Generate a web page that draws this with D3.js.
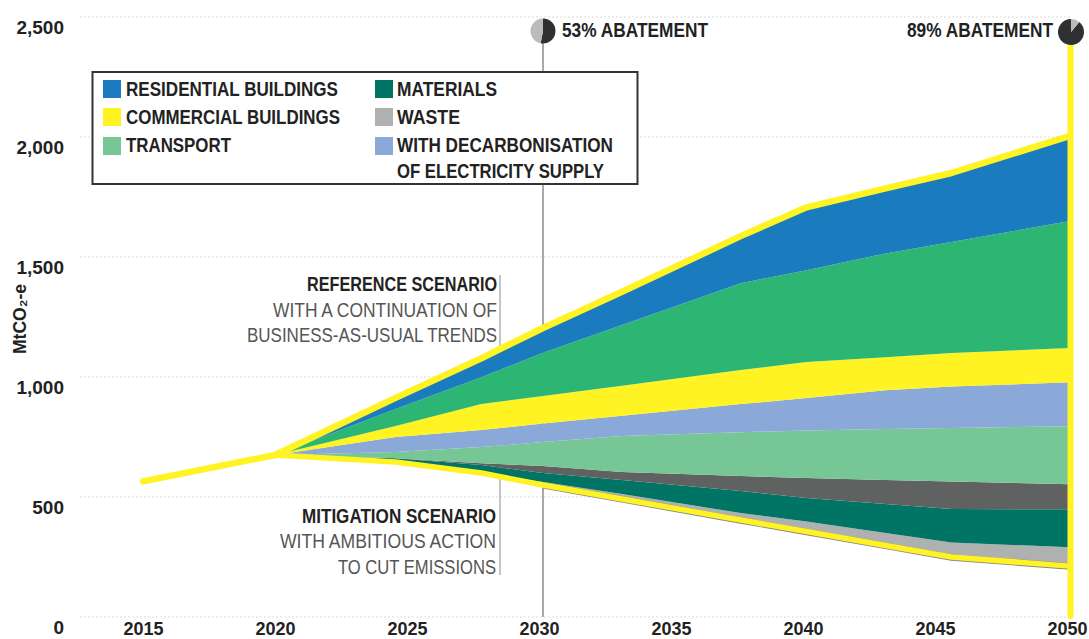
<!DOCTYPE html>
<html><head><meta charset="utf-8">
<style>
html,body{margin:0;padding:0;background:#fff}
svg{display:block}
text{font-family:"Liberation Sans Narrow","Liberation Sans",sans-serif}
</style>
<script src="https://cdn.jsdelivr.net/npm/d3@7"></script>
</head><body><svg id="c" width="1089" height="639"></svg>
<script>
const years      = [2020,2024.5,2027.7,2030,2033,2037.5,2040,2043,2045.5,2050];
const mitigation = [675,646,600,550,492,404,356,298,250,212];
const waste      = [0,0,0,12,21,29,42,52,60,79];
const materials  = [0,15,33,38,58,92,98,121,140,158];
const otherGrey  = [0,0,8,29,33,62,83,100,115,104];
const transport  = [0,27,67,100,150,183,198,212,223,242];
const decarb     = [0,62,71,77,85,117,135,162,172,183];
const commercial = [0,46,108,115,125,142,150,137,140,143];
const otherGreen = [0,71,112,180,253,362,383,433,462,529];
const residential= [0,46,79,103,138,196,262,271,288,355];
const history    = [[2015,565]];
const yTicks = [0,500,1000,1500,2000,2500];
const xTicks = [2015,2020,2025,2030,2035,2040,2045,2050];
const abatement = [53,89];

const seriesKeys = ["mitigation","waste","materials","otherGrey","transport","decarb","commercial","otherGreen","residential"];
const seriesVals = {mitigation,waste,materials,otherGrey,transport,decarb,commercial,otherGreen,residential};
const colors = {waste:"#afb1b0",materials:"#007566",otherGrey:"#606261",transport:"#76c696",decarb:"#8aa9d8",
  commercial:"#fff324",otherGreen:"#2db673",residential:"#1a7bbf"};

const svg = d3.select("#c");
const x = d3.scaleLinear().domain([2015,2020,2030,2050]).range([143,275,543,1070]);
const xAxisScale = d3.scaleLinear().domain([2015,2050]).range([143,1067]);
const y = d3.scaleLinear().domain([0,2500]).range([617,17]);

// grid
svg.append("g").selectAll("line").data(yTicks).join("line")
  .attr("x1",80).attr("x2",1070).attr("y1",d=>y(d)).attr("y2",d=>y(d))
  .attr("stroke","#e8e8e8").attr("stroke-width",1.5).attr("stroke-dasharray","2,2");

// axes
const yAxis = svg.append("g").attr("transform","translate(64,0)")
  .call(d3.axisLeft(y).tickValues(yTicks).tickFormat(d3.format(",")).tickSize(0).tickPadding(0));
yAxis.select(".domain").remove();
yAxis.selectAll("text").attr("dy",16).attr("fill","#222")
  .style("font-family","'Liberation Sans',sans-serif").style("font-size","19px").style("font-weight","700");
const xAxis = svg.append("g").attr("transform","translate(0,617)")
  .call(d3.axisBottom(xAxisScale).tickValues(xTicks).tickFormat(d3.format("d")).tickSize(0).tickPadding(0));
xAxis.select(".domain").remove();
xAxis.selectAll("text").attr("y",18).attr("dy",0).attr("fill","#222")
  .style("font-family","'Liberation Sans',sans-serif").style("font-size","18px").style("font-weight","700");

svg.append("text").attr("transform","translate(26,319) rotate(-90)").attr("text-anchor","middle")
  .attr("fill","#222").attr("textLength",70).attr("lengthAdjust","spacingAndGlyphs")
  .style("font-family","'Liberation Sans',sans-serif").style("font-size","18px").style("font-weight","700").text("MtCO₂-e");

// reference lines behind the areas
svg.append("line").attr("x1",x(2030)).attr("x2",x(2030)).attr("y1",40).attr("y2",617).attr("stroke","#8c8c8c").attr("stroke-width",1.5);
svg.append("line").attr("x1",500).attr("x2",500).attr("y1",275).attr("y2",575).attr("stroke","#8c8c8c").attr("stroke-width",1);

// stacked areas
const rows = years.map((yr,i)=>{const r={year:yr};seriesKeys.forEach(k=>r[k]=seriesVals[k][i]);return r;});
const stacked = d3.stack().keys(seriesKeys)(rows);
const area = d3.area().x(d=>x(d.data.year)).y0(d=>y(d[0])).y1(d=>y(d[1]));
svg.append("g").selectAll("path").data(stacked.filter(s=>s.key!=="mitigation")).join("path")
  .attr("d",area).attr("fill",d=>colors[d.key]);

// scenario lines
const topPts = history.concat(stacked[stacked.length-1].map(d=>[d.data.year,d[1]]));
const botPts = history.concat(stacked[0].map(d=>[d.data.year,d[1]]));
const line = d3.line().x(d=>x(d[0])).y(d=>y(d[1]));
svg.append("path").attr("d",line(botPts.filter(d=>d[0]>=2030))).attr("fill","none").attr("stroke","#8a8a8a").attr("stroke-width",6.5).attr("transform","translate(0,0.4)");
[botPts,topPts].forEach((p,i)=>svg.append("path").attr("d",line(p)).attr("fill","none")
  .attr("stroke","#fff324").attr("stroke-width",i?6.5:5.5).attr("stroke-linecap","round").attr("stroke-linejoin","round"));
svg.append("line").attr("x1",1070.5).attr("x2",1070.5).attr("y1",46).attr("y2",616)
  .attr("stroke","#fff324").attr("stroke-width",6).attr("stroke-linecap","round");

// helper for fitted text
function label(g,t,px,py,w,o={}){
  return g.append("text").attr("x",px).attr("y",py).attr("text-anchor",o.anchor||"start")
   .attr("fill",o.fill||"#222").style("font-size",(o.size||20)+"px").style("font-weight",o.weight||700)
   .attr("textLength",w).attr("lengthAdjust","spacingAndGlyphs").text(t);
}
// pies
const arc = d3.arc().innerRadius(0);
const pieAt = (cx,cy,r,val,start)=>{
  const g = svg.append("g").attr("transform",`translate(${cx},${cy})`);
  const a = d3.pie().sort(null).startAngle(start).endAngle(start+2*Math.PI)([val,100-val]);
  g.selectAll("path").data(a).join("path").attr("d",d=>arc.outerRadius(r)(d)).attr("fill",(d,i)=>i?"#b9bbbd":"#2f3032");
};
pieAt(543,31,12.5,abatement[0],0);
pieAt(1071,32,13,abatement[1],40*Math.PI/180);
label(svg,abatement[0]+"% ABATEMENT",562,37,146,{size:20});
label(svg,abatement[1]+"% ABATEMENT",907,37,146,{size:20});

// legend
svg.append("rect").attr("x",92.5).attr("y",72).attr("width",545).attr("height",112).attr("fill","#fff").attr("stroke","#333").attr("stroke-width",2);
const legendItems = [
 ["RESIDENTIAL BUILDINGS","residential",103,80,126,96,212],
 ["COMMERCIAL BUILDINGS","commercial",103,108,126,124,214],
 ["TRANSPORT","transport",103,137,126,152,105],
 ["MATERIALS","materials",375,80,397,96,100],
 ["WASTE","waste",375,108,397,124,63],
 ["WITH DECARBONISATION","decarb",375,137,397,152,216]];
legendItems.forEach(([t,k,sx,sy,tx,ty,w])=>{
  svg.append("rect").attr("x",sx).attr("y",sy).attr("width",18).attr("height",18).attr("fill",colors[k]);
  label(svg,t,tx,ty,w);
});
label(svg,"OF ELECTRICITY SUPPLY",397,178,207);

// scenario annotations
label(svg,"REFERENCE SCENARIO",497,291,190,{anchor:"end"});
label(svg,"WITH A CONTINUATION OF",497,317,224,{anchor:"end",weight:400,fill:"#555"});
label(svg,"BUSINESS-AS-USUAL TRENDS",497,342,250,{anchor:"end",weight:400,fill:"#555"});
label(svg,"MITIGATION SCENARIO",496,523,194,{anchor:"end"});
label(svg,"WITH AMBITIOUS ACTION",496,548,216,{anchor:"end",weight:400,fill:"#555"});
label(svg,"TO CUT EMISSIONS",496,574,158,{anchor:"end",weight:400,fill:"#555"});
</script></body></html>
